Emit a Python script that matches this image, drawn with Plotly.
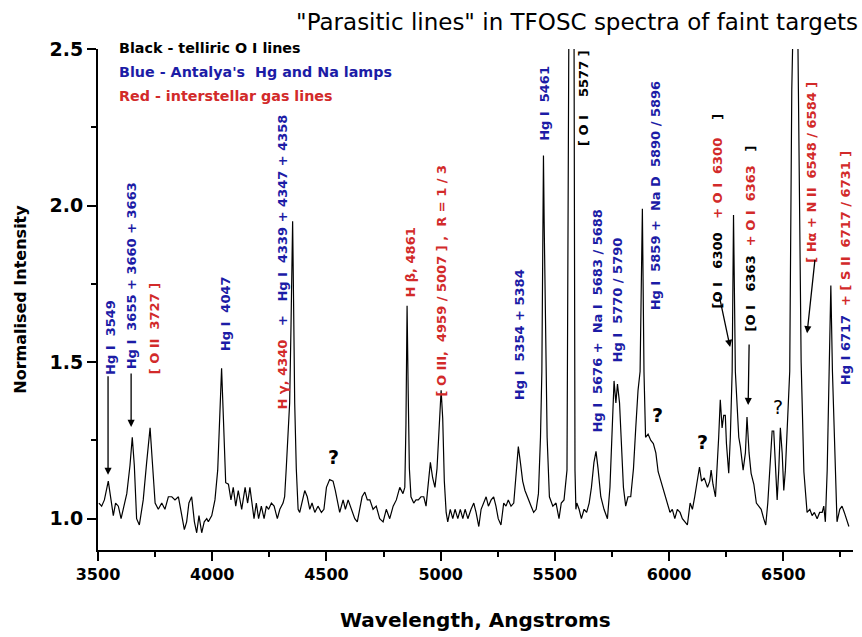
import plotly.graph_objects as go

# Normalised spectrum (wavelength in Angstroms, relative intensity)
wavelength = [
    3504, 3516, 3528, 3545, 3557, 3567, 3577, 3589, 3601, 3615, 3626, 3640, 3650, 3659, 3669,
    3681, 3698, 3713, 3728, 3738, 3750, 3764, 3779, 3793, 3808, 3823, 3837, 3852, 3869, 3878,
    3888, 3898, 3910, 3922, 3932, 3942, 3954, 3965, 3976, 3983, 3998, 4012, 4024, 4034, 4041,
    4049, 4059, 4071, 4082, 4092, 4103, 4114, 4129, 4144, 4155, 4165,
    4183, 4193, 4203, 4215, 4227, 4237, 4247, 4259, 4271, 4285, 4296, 4310, 4317, 4324, 4332,
    4339, 4345, 4349, 4352, 4356, 4361, 4368, 4376, 4383, 4393, 4405, 4416, 4427, 4437, 4449,
    4463, 4478, 4489, 4500, 4514, 4529, 4539, 4548, 4558, 4573, 4583, 4595, 4609, 4624, 4635,
    4646, 4656, 4668, 4679, 4690, 4704, 4718, 4733, 4748, 4762, 4777, 4792, 4806, 4821, 4835,
    4843, 4848, 4853, 4858, 4863, 4870, 4882, 4892, 4902, 4914, 4926, 4936, 4946, 4955, 4965,
    4975, 4984, 4994, 5002, 5009, 5016, 5024, 5031, 5042, 5053, 5063, 5075, 5086, 5097, 5107,
    5119, 5133, 5145, 5155, 5167, 5177, 5189, 5199, 5209, 5221, 5232, 5242, 5252, 5264, 5276,
    5286, 5296, 5308, 5320, 5330, 5340, 5349, 5359, 5369, 5381, 5396, 5407, 5418, 5428, 5437,
    5443, 5448, 5450, 5453, 5461, 5466, 5476, 5491, 5505,
    5511, 5518, 5528, 5540, 5553, 5562, 5573, 5584, 5588, 5592, 5596, 5606, 5616, 5628, 5639,
    5650, 5660, 5671, 5680, 5689, 5701, 5715, 5730, 5741, 5752, 5759, 5767, 5774, 5783, 5791,
    5800, 5810, 5820, 5832, 5844, 5854, 5864, 5873, 5883, 5890, 5897, 5908, 5920, 5931, 5942,
    5952, 5960, 5971, 5981, 5992, 6004, 6014, 6025, 6036, 6048, 6058, 6068, 6080, 6092, 6102,
    6112, 6124, 6133, 6142, 6154, 6168,
    6178, 6184, 6192, 6203, 6210, 6217, 6224, 6232, 6239, 6246, 6251, 6261, 6268, 6276, 6282,
    6290, 6305, 6312, 6324, 6334, 6341, 6350, 6359, 6371, 6382, 6393, 6403, 6414, 6423, 6432,
    6441, 6451, 6458, 6465, 6473, 6480, 6487, 6495, 6502, 6509, 6520, 6528, 6537, 6556, 6566,
    6578, 6590, 6604, 6616, 6626, 6636, 6648, 6659, 6670, 6677, 6684, 6692, 6698, 6708, 6715,
    6726, 6735, 6747, 6757, 6767, 6779, 6787,
]
intensity = [
    1.05, 1.04, 1.06, 1.12, 1.06, 1.01, 1.05, 1.04, 1.00, 1.05, 1.08, 1.17, 1.26, 1.17, 1.00,
    0.98, 1.06, 1.18, 1.29, 1.18, 1.05, 1.03, 1.05, 1.03, 1.07, 1.07, 1.06, 1.07, 1.00, 0.965,
    0.99, 1.05, 1.07, 0.99, 0.955, 1.01, 0.955, 0.99, 1.00, 0.99, 1.01, 1.06, 1.155, 1.37, 1.48,
    1.32, 1.115, 1.11, 1.06, 1.10, 1.04, 1.09, 1.03, 1.10, 1.05, 1.10,
    1.00, 1.05, 1.00, 1.04, 1.00, 1.04, 1.03, 1.05, 1.04, 1.00, 1.03, 1.05, 1.07, 1.16, 1.26,
    1.37, 1.62, 1.81, 1.95, 1.70, 1.37, 1.16, 1.03, 1.02, 1.05, 1.09, 1.07, 1.03, 1.05, 1.02,
    1.04, 1.02, 1.03, 1.10, 1.125, 1.12, 1.09, 1.05, 1.02, 1.06, 1.03, 1.06, 1.03, 1.00, 0.99,
    1.03, 1.07, 1.085, 1.06, 1.06, 1.03, 1.04, 1.00, 0.99, 1.03, 1.00, 1.04, 1.06, 1.10, 1.08,
    1.10, 1.30, 1.68, 1.40, 1.16, 1.07, 1.05, 1.06, 1.06, 1.07, 1.07, 1.04, 1.12, 1.18, 1.13,
    1.10, 1.16, 1.32, 1.41, 1.32, 1.12, 1.02, 0.99, 1.03, 1.00, 1.03, 1.00, 1.03, 1.00, 1.03,
    1.00, 1.03, 1.05, 1.02, 0.975, 1.03, 1.05, 1.07, 1.04, 1.06, 1.07, 1.04, 1.00, 0.98, 1.05,
    1.04, 1.06, 1.04, 1.05, 1.14, 1.23, 1.18, 1.12, 1.09, 1.07, 1.04, 1.02, 1.03, 1.08, 1.26,
    1.47, 1.95, 2.16, 1.95, 1.47, 1.26, 1.07, 1.04, 1.05,
    1.02, 1.00, 1.05, 1.06, 1.155, 2.50, 4.60, 2.50, 1.155, 1.03, 1.05, 1.03, 1.00, 1.03, 1.02,
    1.05, 1.10, 1.18, 1.215, 1.16, 1.07, 1.03, 1.00, 1.10, 1.315, 1.44, 1.37, 1.43, 1.37, 1.22,
    1.10, 1.04, 1.07, 1.07, 1.16, 1.29, 1.41, 1.47, 1.99, 1.47, 1.26, 1.27, 1.25, 1.24, 1.21,
    1.15, 1.13, 1.10, 1.07, 1.05, 1.02, 1.03, 1.00, 1.03, 1.02, 1.00, 0.99, 0.98, 1.05, 1.03,
    1.07, 1.12, 1.165, 1.12, 1.13, 1.10,
    1.12, 1.155, 1.11, 1.07, 1.155, 1.26, 1.38, 1.29, 1.33, 1.33, 1.24, 1.145, 1.26, 1.47, 1.97,
    1.47, 1.26, 1.23, 1.155, 1.21, 1.325, 1.21, 1.145, 1.11, 1.05, 1.04, 1.03, 1.00, 0.98, 1.05,
    1.155, 1.28, 1.28, 1.155, 1.06, 1.155, 1.29, 1.21, 1.09, 1.155, 1.37, 1.47, 2.37, 3.08, 2.37,
    1.50, 1.15, 1.02, 1.03, 1.01, 1.02, 1.00, 1.02, 1.02, 1.04, 0.99, 1.155, 1.37, 1.745, 1.47,
    1.21, 0.99, 1.03, 1.04, 1.02, 0.99, 0.975,
]

x_ticks = [3500, 4000, 4500, 5000, 5500, 6000, 6500]
y_ticks = [1.0, 1.5, 2.0, 2.5]

BLUE = "#1c1ca6"
RED = "#d22a2a"
BLACK = "#000000"
NB = "\u00a0"
FONT = "DejaVu Sans"

fig = go.Figure()
fig.add_trace(go.Scatter(
    x=wavelength, y=intensity, mode="lines",
    line=dict(color="black", width=1.2),
    hoverinfo="skip", showlegend=False,
))


def red(s):
    return f'<span style="color:{RED}">{s}</span>'


S2 = NB * 2
S3 = NB * 3

# Identification labels written vertically beside the emission features
line_labels = [
    (3552, 1.58, f"Hg I{S2}3549", BLUE),
    (3644, 1.777, f"Hg I{S2}3655 + 3660 + 3663", BLUE),
    (3745, 1.608, f"[ O II{S2}3727 ]", RED),
    (4056, 1.653, f"Hg I{S2}4047", BLUE),
    (4310, 1.818, red(f"H γ, 4340") + f"{S3}+{S3}Hg I{S2}4339{NB}+{NB}4347{NB}+{NB}4358", BLUE),
    (4866, 1.818, "H β, 4861", RED),
    (5002, 1.761, f"[ O III,{S2}4959 / 5007 ] ,{S2}R = 1 / 3", RED),
    (5343, 1.586, f"Hg I{S2}5354 + 5384", BLUE),
    (5457, 2.325, f"Hg I{S2}5461", BLUE),
    (5628, 2.344, f"[ O I{NB * 4}5577 ]", BLACK),
    (5685, 1.63, f"Hg I{S2}5676 +{S2}Na I{S2}5683 / 5688", BLUE),
    (5772, 1.697, f"Hg I{S2}5770 / 5790", BLUE),
    (5939, 2.03, f"Hg I{S2}5859 +{S2}Na D{S2}5890 / 5896", BLUE),
    (6214, 1.984, f"[O I{S3}6300{S3}" + red(f"+ O I{S2}6300") + f"{NB * 4}]", BLACK),
    (6354, 1.895, f"[O I{S3}6363{S2}" + red(f"+ O I{S2}6363") + f"{S3}]", BLACK),
    (6626, 2.105, f"[ Hα + N II{S2}6548 / 6584 ]", RED),
    (6770, 1.80, f"Hg I{NB}6717{S2}" + red(f"+ [ S II{S2}6717 / 6731 ]"), BLUE),
]

annotations = []
for lx, ly, txt, col in line_labels:
    annotations.append(dict(
        x=lx, y=ly, xref="x", yref="y", text=f"<b>{txt}</b>", showarrow=False,
        textangle=-90, xanchor="center", yanchor="middle",
        font=dict(family=FONT, size=13, color=col),
    ))

# Unidentified features
for qx, qy, wt in [(4529, 1.197, "bold"), (5947, 1.33, "bold"),
                   (6144, 1.245, "bold"), (6477, 1.357, "normal")]:
    annotations.append(dict(
        x=qx, y=qy, xref="x", yref="y", text="?", showarrow=False,
        font=dict(family=FONT, size=19, color="black", weight=wt),
    ))

# Arrows pointing at the blended features (tip in data units, tail offset in px)
for tx, ty, ax, ay in [(3544, 1.14, 0, -100), (3645, 1.293, 0, -55),
                       (6267, 1.548, -11, -52), (6346, 1.363, 1, -62),
                       (6604, 1.592, 8, -75)]:
    annotations.append(dict(
        x=tx, y=ty, xref="x", yref="y", text="", showarrow=True,
        ax=ax, ay=ay, arrowhead=2, arrowsize=1.1, arrowwidth=1.3, arrowcolor="black",
    ))

# Colour key
for i, (txt, col) in enumerate([("Black - telliric O I lines", BLACK),
                                (f"Blue - Antalya's{S2}Hg and Na lamps", BLUE),
                                ("Red - interstellar gas lines", RED)]):
    annotations.append(dict(
        x=0.025, y=1.002 - i * 0.048, xref="paper", yref="paper", text=f"<b>{txt}</b>",
        showarrow=False, xanchor="left", yanchor="middle",
        font=dict(family=FONT, size=14.3, color=col),
    ))

# Axis titles
annotations.append(dict(
    x=0.5, y=-0.14, xref="paper", yref="paper", text="<b>Wavelength, Angstroms</b>",
    showarrow=False, xanchor="center", yanchor="middle",
    font=dict(family=FONT, size=20, color="black"),
))
annotations.append(dict(
    x=-0.103, y=0.5, xref="paper", yref="paper", text="<b>Normalised Intensity</b>",
    showarrow=False, xanchor="center", yanchor="middle", textangle=-90,
    font=dict(family=FONT, size=16, color="black"),
))

fig.update_layout(
    width=862, height=637,
    margin=dict(l=98, r=9, t=49, b=87),
    paper_bgcolor="white", plot_bgcolor="white",
    title=dict(
        text='"Parasitic lines" in TFOSC spectra of faint targets',
        x=0.9954, xref="container", xanchor="right",
        y=0.965, yref="container", yanchor="middle",
        font=dict(family=FONT, size=23, color="black"),
    ),
    annotations=annotations,
    xaxis=dict(
        range=[3500, 6805], tickvals=x_ticks, ticktext=[str(v) for v in x_ticks],
        ticks="outside", ticklen=9, tickwidth=1.5, tickcolor="black",
        showline=True, linecolor="black", linewidth=2, showgrid=False, zeroline=False,
        tickfont=dict(family=FONT, size=16, color="black", weight="bold"),
        minor=dict(dtick=250, tick0=3500, ticks="outside", ticklen=5, tickwidth=1.5,
                   tickcolor="black", showgrid=False),
    ),
    yaxis=dict(
        range=[0.9, 2.5], tickvals=y_ticks, ticktext=[f"{v:.1f}" for v in y_ticks],
        ticks="outside", ticklen=9, tickwidth=1.5, tickcolor="black",
        showline=True, linecolor="black", linewidth=2, showgrid=False, zeroline=False,
        tickfont=dict(family=FONT, size=19, color="black", weight="bold"),
        minor=dict(dtick=0.25, tick0=1.0, ticks="outside", ticklen=5, tickwidth=1.5,
                   tickcolor="black", showgrid=False),
    ),
)

fig.write_html("out.html")
